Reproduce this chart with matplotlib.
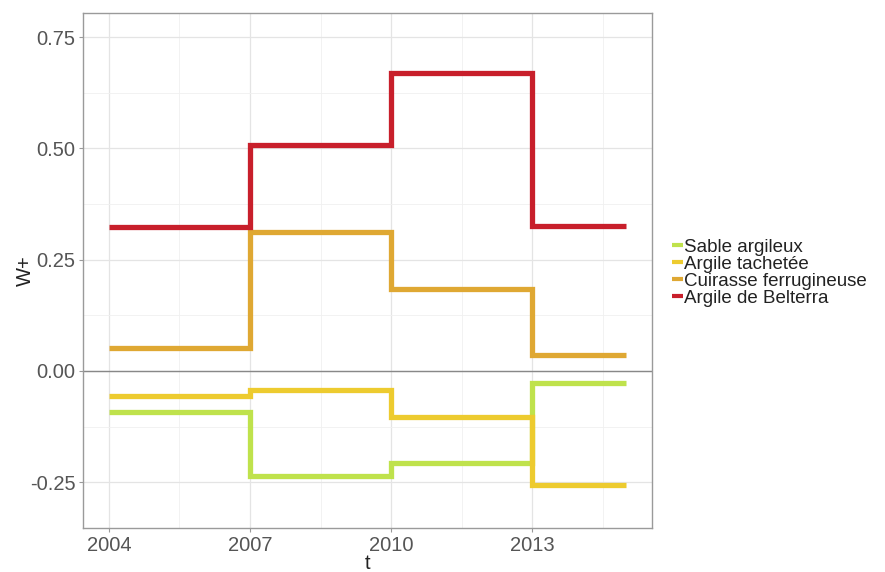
import matplotlib
matplotlib.use("Agg")
import matplotlib.pyplot as plt
from matplotlib.ticker import MultipleLocator
from matplotlib.lines import Line2D

plt.rcParams["font.family"] = ["Liberation Sans", "DejaVu Sans"]

# Data
period_starts = [2004, 2007, 2010, 2013]
period_end = 2015
series_names = ["Sable argileux", "Argile tachetée", "Cuirasse ferrugineuse", "Argile de Belterra"]
sable_argileux = [-0.092, -0.236, -0.206, -0.028]
argile_tachetee = [-0.056, -0.044, -0.103, -0.256]
cuirasse_ferrugineuse = [0.052, 0.312, 0.184, 0.036]
argile_belterra = [0.324, 0.508, 0.670, 0.326]
colors = ["#BFE24C", "#EDCB2F", "#DFA833", "#C81F2B"]
x_ticks = [2004, 2007, 2010, 2013]
y_ticks = [-0.25, 0.00, 0.25, 0.50, 0.75]

fig = plt.figure(figsize=(8.85, 5.72), dpi=100)
ax = fig.add_axes([0.0938, 0.077, 0.643, 0.900])

xs = period_starts + [period_end]
all_series = [sable_argileux, argile_tachetee, cuirasse_ferrugineuse, argile_belterra]
handles = []
for name, vals, c in zip(series_names, all_series, colors):
    ys = vals + [vals[-1]]
    ax.plot(xs, ys, drawstyle="steps-post", color=c, lw=3.8,
            solid_capstyle="butt", solid_joinstyle="miter", label=name, zorder=3)
    handles.append(Line2D([], [], color=c, lw=3.0, solid_capstyle="butt", label=name))

ax.axhline(0, color="#888888", lw=1.0, zorder=2)

ax.set_xlim(2003.45, 2015.55)
ax.set_ylim(-0.353, 0.804)
ax.set_xticks(x_ticks)
ax.set_xticklabels([str(v) for v in x_ticks])
ax.set_yticks(y_ticks)
ax.set_yticklabels([f"{v:.2f}" for v in y_ticks])
ax.xaxis.set_minor_locator(MultipleLocator(1.5))
ax.yaxis.set_minor_locator(MultipleLocator(0.125))
ax.grid(which="major", color="#E4E4E4", lw=0.9, zorder=0)
ax.grid(which="minor", color="#F0F0F0", lw=0.6, zorder=0)
ax.set_axisbelow(True)
for s in ax.spines.values():
    s.set_color("#9A9A9A")
    s.set_linewidth(1.0)
ax.tick_params(which="major", length=3, color="#9A9A9A", labelsize=14.5,
               labelcolor="#555555", pad=2.5)
ax.tick_params(which="minor", length=0)

ax.set_xlabel("t", fontsize=14.5, color="#222222")
ax.xaxis.set_label_coords(0.5, -0.050)
ax.set_ylabel("W+", fontsize=14.5, color="#222222")
ax.yaxis.set_label_coords(-0.084, 0.5)

leg = fig.legend(handles=handles, loc="upper left", bbox_to_anchor=(0.759, 0.583),
                 frameon=False, fontsize=13.5, handlelength=0.6, handletextpad=0.05,
                 labelspacing=0.0, borderaxespad=0, borderpad=0)
for t in leg.get_texts():
    t.set_color("#222222")

fig.savefig("out.png", dpi=100)
